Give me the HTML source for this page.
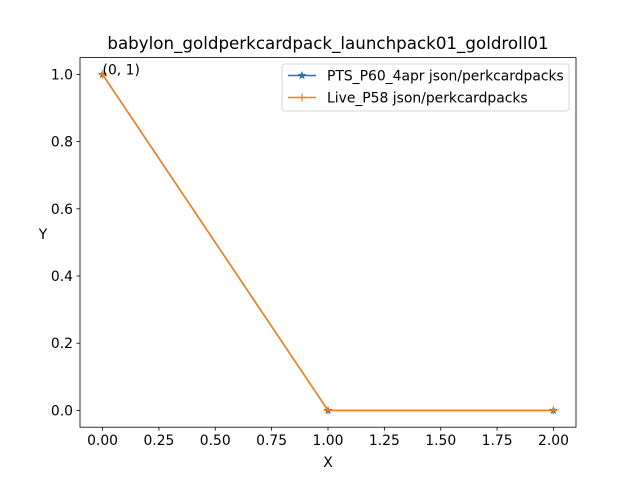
<!DOCTYPE html>
<html><head><meta charset="utf-8"><style>
body{margin:0;background:#fff}
svg text{font-family:"DejaVu Sans","Liberation Sans",sans-serif;fill:#000}
</style></head><body>
<svg width="640" height="480" viewBox="0 0 640 480">
<rect width="640" height="480" fill="#fff"/>
<g id="plot"></g>
</svg>
<script>
const xVals=[0,1,2];
const series1=[1,0,0];
const series2=[1,0,0];
const seriesNames=["PTS_P60_4apr json/perkcardpacks","Live_P58 json/perkcardpacks"];
const xTicks=[0,0.25,0.5,0.75,1,1.25,1.5,1.75,2];
const xTickLabels=["0.00","0.25","0.50","0.75","1.00","1.25","1.50","1.75","2.00"];
const yTicks=[0,0.2,0.4,0.6,0.8,1];
const yTickLabels=["0.0","0.2","0.4","0.6","0.8","1.0"];
const L=80,R=576,T=57.6,B=427.2,xmin=-0.1,xmax=2.1,ymin=-0.05,ymax=1.05;
const sx=v=>L+(v-xmin)/(xmax-xmin)*(R-L);
const sy=v=>B-(v-ymin)/(ymax-ymin)*(B-T);
const NS="http://www.w3.org/2000/svg";
const g=document.getElementById('plot');
function mk(t,a,txt){const e=document.createElementNS(NS,t);for(const k in a)e.setAttribute(k,a[k]);if(txt!==undefined)e.textContent=txt;g.appendChild(e);return e;}
let e;
e=mk('text',{x:328,y:49,'text-anchor':'middle','font-size':16.7},'babylon_goldperkcardpack_launchpack01_goldroll01');


xTicks.forEach((v,i)=>{
 e=mk('line',{x1:sx(v),x2:sx(v),y1:B,y2:B+3.5,stroke:'#000','stroke-width':0.8});
 
 
 e=mk('text',{x:sx(v),y:B+18,'text-anchor':'middle','font-size':13.9},xTickLabels[i]);
 
 
});
yTicks.forEach((v,i)=>{
 e=mk('line',{x1:L-3.5,x2:L,y1:sy(v),y2:sy(v),stroke:'#000','stroke-width':0.8});
 
 
 e=mk('text',{x:L-7,y:sy(v)+5,'text-anchor':'end','font-size':13.9},yTickLabels[i]);
 
 
});
e=mk('text',{x:328,y:467,'text-anchor':'middle','font-size':13.9},'X');


e=mk('text',{x:43,y:239,'text-anchor':'middle','font-size':13.9},'Y');


function star(cx,cy,r,col){let p=[];for(let i=0;i<10;i++){const a=-Math.PI/2+i*Math.PI/5;const rr=i%2?r*0.4:r;p.push((cx+rr*Math.cos(a)).toFixed(2)+','+(cy+rr*Math.sin(a)).toFixed(2));}return mk('polygon',{points:p.join(' '),fill:col,stroke:col,'stroke-width':0.5});}
function plus(cx,cy,r,col){return mk('path',{d:`M${cx-r},${cy}H${cx+r}M${cx},${cy-r}V${cy+r}`,stroke:col,'stroke-width':1.2,fill:'none'});}
const cols=['#1f77b4','#ff7f0e'];
[series1,series2].forEach((s,k)=>{
 e=mk('polyline',{points:xVals.map((x,i)=>sx(x)+','+sy(s[i])).join(' '),fill:'none',stroke:cols[k],'stroke-width':1.5});
 
 
 xVals.forEach((x,i)=>{
  e=k===0?star(sx(x),sy(s[i]),4,cols[0]):plus(sx(x),sy(s[i]),4,cols[1]);
  
  
 });
});
e=mk('text',{x:sx(0),y:sy(1),'font-size':13.9},'(0, 1)');


e=mk('rect',{x:L,y:T,width:R-L,height:B-T,fill:'none',stroke:'#000','stroke-width':0.8});


e=mk('rect',{x:282,y:64,width:287,height:47,rx:3,fill:'#fff','fill-opacity':0.8,stroke:'#ccc','stroke-width':0.8});


seriesNames.forEach((n,k)=>{
 const y=75.5+k*22;
 e=mk('line',{x1:288,x2:316,y1:y,y2:y,stroke:cols[k],'stroke-width':1.5});
 
 
 e=k===0?star(302,y,4,cols[0]):plus(302,y,4,cols[1]);
 
 
 e=mk('text',{x:327,y:y+5,'font-size':13.9},n);
 
 
});
</script>
</body></html>
